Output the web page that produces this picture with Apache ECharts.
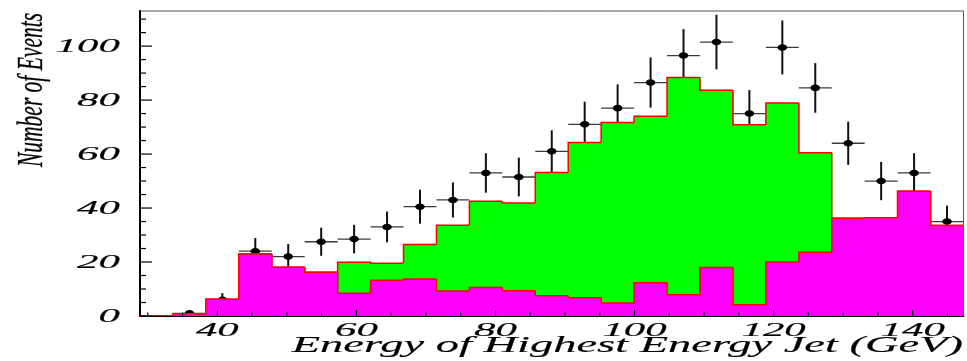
<!DOCTYPE html>
<html>
<head>
<meta charset="utf-8">
<script src="https://cdn.jsdelivr.net/npm/echarts@6/dist/echarts.min.js"></script>
<style>
  html, body { margin: 0; padding: 0; background: #ffffff; }
  #chart { width: 967px; height: 361px; }
</style>
</head>
<body>
<div id="chart"></div>
<script>
// Binning of the jet-energy histogram (GeV)
const binLow = 28.88;
const binWidth = 4.737;

// Background expectation per bin (magenta)
const background = [0, 0.8, 6.2, 23, 18.1, 16.2, 8.4, 13.2, 13.7, 9.3, 10.6, 9.4, 7.5,
  6.8, 4.8, 12.3, 7.9, 18.0, 4.2, 20.0, 23.6, 36.2, 36.4, 46.2, 33.5];

// Total expectation per bin (top of the green stack)
const total = [0, 0.8, 6.2, 23, 18.1, 16.2, 19.9, 19.5, 26.5, 33.6, 42.5, 41.9, 53.2,
  64.3, 71.7, 74.0, 88.4, 83.6, 70.9, 78.9, 60.5, 36.2, 36.4, 46.2, 33.5];

// Observed events and their statistical errors (null = empty bin)
const observed = [null, 1, 6, 24, 22, 27.5, 28.5, 33, 40.5, 43, 53, 51.5, 61,
  71, 77, 86.5, 96.5, 101.5, 75, 99.5, 84.5, 64, 50, 53, 35];
const observedErr = [null, 1, 2.5, 4.9, 4.7, 5.2, 5.3, 5.7, 6.3, 6.5, 7.3, 7.2, 7.8,
  8.4, 8.8, 9.3, 9.8, 10.1, 8.7, 10, 9.2, 8, 7.1, 7.3, 5.9];

// Axis tick labels
const xTickLabels = [40, 60, 80, 100, 120, 140];
const yTickLabels = [0, 20, 40, 60, 80, 100];

const xMin = binLow;
const xMax = binLow + total.length * binWidth;
const yMin = 0;
const yMax = 113;

const binCenter = i => binLow + (i + 0.5) * binWidth;

const serif = '"Liberation Serif", "Times New Roman", serif';
const labelFont = 'italic 19.5px ' + serif;

function textStyle(text, font, align, vAlign, strokeW) {
  return {
    text: text, font: font, fill: '#000000',
    stroke: '#000000', lineWidth: strokeW || 0.15,
    align: align, textAlign: align,
    verticalAlign: vAlign, textVerticalAlign: vAlign
  };
}

// Filled step histogram with red outline
function histSeries(name, values, color, z) {
  return {
    type: 'custom',
    name: name,
    z: z,
    clip: true,
    data: values.map((v, i) => [binCenter(i), v]),
    renderItem: function (params, api) {
      const c = api.value(0);
      const v = api.value(1);
      const idx = params.dataIndex;
      const prev = idx > 0 ? values[idx - 1] : 0;
      const pBase = api.coord([c - binWidth / 2, 0]);
      const pTop = api.coord([c + binWidth / 2, v]);
      const yPrev = api.coord([c, prev])[1];
      return {
        type: 'group',
        children: [
          {
            type: 'rect',
            shape: { x: pBase[0], y: pTop[1], width: pTop[0] - pBase[0] + 0.6, height: pBase[1] - pTop[1] },
            style: { fill: color }
          },
          {
            type: 'polyline',
            shape: { points: [[pBase[0], yPrev], [pBase[0], pTop[1]], [pTop[0], pTop[1]]] },
            style: { stroke: '#ff0000', lineWidth: 1.5, fill: null }
          }
        ]
      };
    }
  };
}

// Data points with horizontal (bin width) and vertical (stat.) error bars
const observedData = [];
observed.forEach((v, i) => {
  if (v !== null) observedData.push([binCenter(i), v, observedErr[i]]);
});

const observedSeries = {
  type: 'custom',
  name: 'Data',
  z: 1,
  clip: true,
  data: observedData,
  renderItem: function (params, api) {
    const x = api.value(0), v = api.value(1), e = api.value(2);
    const left = api.coord([x - binWidth / 2, v]);
    const right = api.coord([x + binWidth / 2, v]);
    const top = api.coord([x, v + e]);
    const bottom = api.coord([x, Math.max(v - e, 0)]);
    const mid = api.coord([x, v]);
    return {
      type: 'group',
      children: [
        { type: 'line', shape: { x1: left[0], y1: left[1], x2: right[0], y2: right[1] },
          style: { stroke: '#3a3a3a', lineWidth: 1.3 } },
        { type: 'line', shape: { x1: top[0], y1: top[1], x2: bottom[0], y2: bottom[1] },
          style: { stroke: '#111111', lineWidth: 2 } },
        { type: 'ellipse', shape: { cx: mid[0], cy: mid[1], rx: 4.8, ry: 3.3 },
          style: { fill: '#000000' } }
      ]
    };
  }
};

// Inward tick marks: every 5 units, longer at labelled values
const yTicks = [];
for (let t = 0; t <= 110; t += 5) yTicks.push(t);
const xTicks = [];
for (let t = 30; t <= 145; t += 5) xTicks.push(t);

const yTickSeries = {
  type: 'custom', z: 6, clip: false,
  data: yTicks.map(t => [xMin, t]),
  renderItem: function (params, api) {
    const t = api.value(1);
    const p = api.coord([xMin, t]);
    const len = yTickLabels.indexOf(t) >= 0 ? 12 : 6;
    return { type: 'line', shape: { x1: p[0], y1: p[1], x2: p[0] + len, y2: p[1] },
      style: { stroke: '#000000', lineWidth: 1.2 } };
  }
};

const xTickSeries = {
  type: 'custom', z: 6, clip: false,
  data: xTicks.map(t => [t, yMin]),
  renderItem: function (params, api) {
    const t = api.value(0);
    const p = api.coord([t, yMin]);
    const len = xTickLabels.indexOf(t) >= 0 ? 6 : 3.5;
    return { type: 'line', shape: { x1: p[0], y1: p[1], x2: p[0], y2: p[1] - len },
      style: { stroke: '#000000', lineWidth: 1.2 } };
  }
};

// Tick labels, wide italic serif
const yLabelSeries = {
  type: 'custom', z: 6, clip: false,
  data: yTickLabels.map(t => [xMin, t]),
  renderItem: function (params, api) {
    const t = api.value(1);
    const p = api.coord([xMin, t]);
    return { type: 'text', x: p[0] - 20, y: p[1] + 0.5, scaleX: 2.2,
      style: textStyle(String(t), labelFont, 'right', 'middle') };
  }
};

const xLabelSeries = {
  type: 'custom', z: 6, clip: false,
  data: xTickLabels.map(t => [t, yMin]),
  renderItem: function (params, api) {
    const t = api.value(0);
    const p = api.coord([t, yMin]);
    return { type: 'text', x: p[0], y: p[1] + 15, scaleX: 2.2,
      style: textStyle(String(t), labelFont, 'center', 'middle') };
  }
};

const chart = echarts.init(document.getElementById('chart'), null, { renderer: 'canvas' });

chart.setOption({
  animation: false,
  backgroundColor: '#ffffff',
  grid: {
    left: 140, top: 11, right: 3.5, bottom: 45,
    show: true, borderColor: '#555555', borderWidth: 1,
    outerBoundsMode: 'none'
  },
  xAxis: {
    type: 'value', min: xMin, max: xMax,
    axisLine: { show: true, lineStyle: { color: '#000000', width: 2 } },
    axisTick: { show: false }, axisLabel: { show: false }, splitLine: { show: false }
  },
  yAxis: {
    type: 'value', min: yMin, max: yMax,
    axisLine: { show: true, lineStyle: { color: '#000000', width: 2 } },
    axisTick: { show: false }, axisLabel: { show: false }, splitLine: { show: false }
  },
  graphic: [
    {
      type: 'text', x: 32, y: 90, rotation: Math.PI / 2, scaleY: 1.7,
      style: textStyle('Number of Events', 'italic 21.5px ' + serif, 'center', 'middle', 0.2)
    },
    {
      type: 'text', x: 963, y: 346, scaleX: 2.02,
      style: textStyle('Energy of Highest Energy Jet (GeV)', 'italic 23px ' + serif, 'right', 'middle', 0.15)
    }
  ],
  series: [
    observedSeries,
    histSeries('Total', total, '#00ff00', 2),
    histSeries('Background', background, '#ff00ff', 3),
    yTickSeries,
    xTickSeries,
    yLabelSeries,
    xLabelSeries
  ]
});
</script>
</body>
</html>
